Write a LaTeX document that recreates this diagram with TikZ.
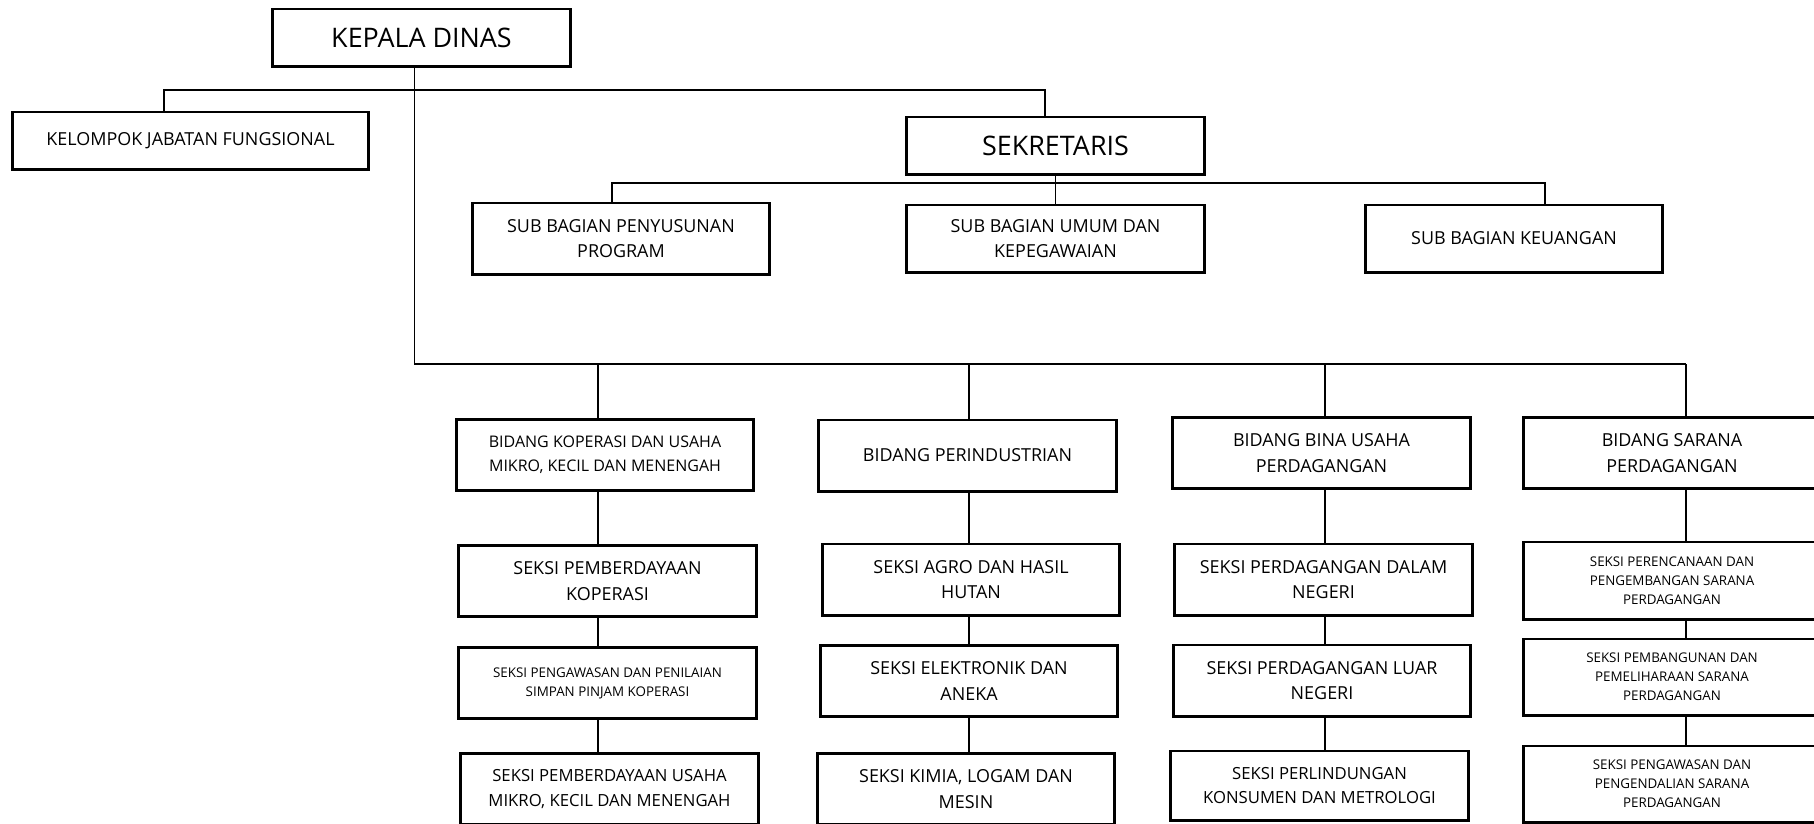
\documentclass[tikz,border=0pt]{standalone}
\usepackage{fontspec}
\setmainfont{Open Sans}
\usetikzlibrary{positioning}

\begin{document}
\begin{tikzpicture}[x=0.01cm, y=-0.01cm,
    unitbox/.style={draw, line width=0.85pt, minimum width=2.97cm, minimum height=0.71cm, align=center, inner sep=1pt},
    headbox/.style={unitbox, minimum height=0.57cm, font=\fontsize{7.65}{9}\selectfont},
    midbox/.style={unitbox, font=\fontsize{5.1}{7.2}\selectfont},
    lowbox/.style={unitbox, font=\fontsize{4.75}{7}\selectfont},
    smallbox/.style={unitbox, font=\fontsize{3.8}{5.4}\selectfont},
    link/.style={line width=0.42pt}]
    \useasboundingbox (0, 0) rectangle (1814, 823);
    \clip (0, 0) rectangle (1814, 823);

    \node[headbox] (kadis) at (421.5, 37.5) {KEPALA DINAS};
    \node[midbox, minimum width=3.55cm, minimum height=0.57cm] (kjf) at (190.5, 140.5) {KELOMPOK JABATAN FUNGSIONAL};
    \node[headbox] (sekre) at (1055.5, 145.5) {SEKRETARIS};
    \node[midbox] (sbprog) at (621, 238.5) {SUB BAGIAN PENYUSUNAN\\PROGRAM};
    \node[midbox, minimum height=0.67cm] (sbumum) at (1055.5, 238.5) {SUB BAGIAN UMUM DAN\\KEPEGAWAIAN};
    \node[midbox, minimum height=0.67cm] (sbkeu) at (1514, 238.5) {SUB BAGIAN KEUANGAN};

    \node[unitbox, font=\fontsize{4.55}{6.8}\selectfont] (bkop) at (605, 455) {BIDANG KOPERASI DAN USAHA\\MIKRO, KECIL DAN MENENGAH};
    \node[midbox] (bind) at (967.5, 455.5) {BIDANG PERINDUSTRIAN};
    \node[midbox] (bbina) at (1321.5, 453) {BIDANG BINA USAHA\\PERDAGANGAN};
    \node[midbox] (bsar) at (1672, 453) {BIDANG SARANA\\PERDAGANGAN};

    \node[midbox] (skop1) at (607.5, 581) {SEKSI PEMBERDAYAAN\\KOPERASI};
    \node[smallbox] (skop2) at (607.5, 683) {SEKSI PENGAWASAN DAN PENILAIAN\\SIMPAN PINJAM KOPERASI};
    \node[lowbox] (skop3) at (609.5, 789) {SEKSI PEMBERDAYAAN USAHA\\MIKRO, KECIL DAN MENENGAH};

    \node[midbox] (sind1) at (971, 579.5) {SEKSI AGRO DAN HASIL\\HUTAN};
    \node[midbox] (sind2) at (969, 681) {SEKSI ELEKTRONIK DAN\\ANEKA};
    \node[midbox] (sind3) at (966, 789) {SEKSI KIMIA, LOGAM DAN\\MESIN};

    \node[midbox] (sbina1) at (1323.5, 579.5) {SEKSI PERDAGANGAN DALAM\\NEGERI};
    \node[midbox] (sbina2) at (1322, 680.5) {SEKSI PERDAGANGAN LUAR\\NEGERI};
    \node[lowbox, minimum height=0.69cm] (sbina3) at (1319.5, 785.5) {SEKSI PERLINDUNGAN\\KONSUMEN DAN METROLOGI};

    \node[smallbox, minimum height=0.77cm] (ssar1) at (1672, 580.5) {SEKSI PERENCANAAN DAN\\PENGEMBANGAN SARANA\\PERDAGANGAN};
    \node[smallbox, minimum height=0.76cm] (ssar2) at (1672, 677) {SEKSI PEMBANGUNAN DAN\\PEMELIHARAAN SARANA\\PERDAGANGAN};
    \node[smallbox, minimum height=0.76cm] (ssar3) at (1672, 784) {SEKSI PENGAWASAN DAN\\PENGENDALIAN SARANA\\PERDAGANGAN};

    \coordinate (kjftop) at (164, 90);
    \coordinate (sekretop) at (1045, 90);
    \coordinate (trunk) at (414.5, 364);
    \coordinate (sbleft) at (612, 183);
    \coordinate (sbright) at (1545, 183);
    \coordinate (cola) at (598, 364);
    \coordinate (colb) at (969, 364);
    \coordinate (colc) at (1325, 364);
    \coordinate (cold) at (1686, 364);

    \draw[link]
    (kadis.south -| trunk) -- (trunk) -- (cold)
    (kjf.north -| kjftop) -- (kjftop) -- (sekretop) -- (sekre.north -| sekretop)
    (sbprog.north -| sbleft) -- (sbleft) -- (sbright) -- (sbkeu.north -| sbright)
    (sekre.south) -- (sbumum.north)
    (cola) -- (bkop.north -| cola)
    (bkop.south -| cola) -- (skop1.north -| cola)
    (skop1.south -| cola) -- (skop2.north -| cola)
    (skop2.south -| cola) -- (skop3.north -| cola)
    (colb) -- (bind.north -| colb)
    (bind.south -| colb) -- (sind1.north -| colb)
    (sind1.south -| colb) -- (sind2.north -| colb)
    (sind2.south -| colb) -- (sind3.north -| colb)
    (colc) -- (bbina.north -| colc)
    (bbina.south -| colc) -- (sbina1.north -| colc)
    (sbina1.south -| colc) -- (sbina2.north -| colc)
    (sbina2.south -| colc) -- (sbina3.north -| colc)
    (cold) -- (bsar.north -| cold)
    (bsar.south -| cold) -- (ssar1.north -| cold)
    (ssar1.south -| cold) -- (ssar2.north -| cold)
    (ssar2.south -| cold) -- (ssar3.north -| cold);
\end{tikzpicture}
\end{document}
